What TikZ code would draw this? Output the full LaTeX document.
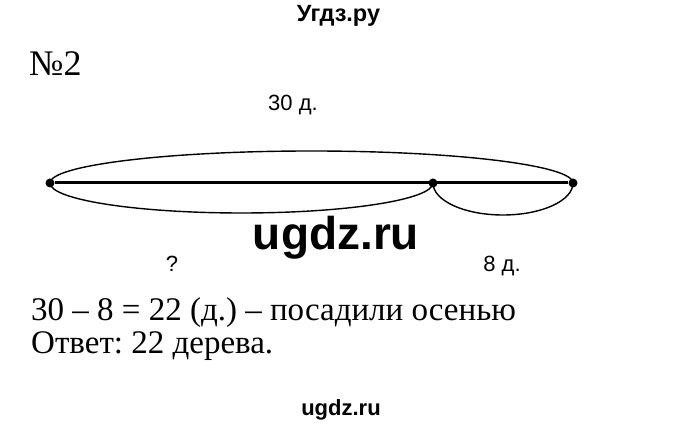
\documentclass[tikz,border=0pt]{standalone}
\usepackage{fontspec}
\setmainfont{Liberation Serif}
\newfontfamily\labelfont{Liberation Sans}
\frenchspacing

\begin{document}
\begin{tikzpicture}[x=1pt, y=1pt,
		dot/.style={circle, fill, inner sep=0pt, minimum size=9pt},
		arcline/.style={line width=1.4pt},
		lbl/.style={font=\labelfont\fontsize{22}{22}\selectfont, inner sep=0pt, anchor=base},
		site/.style={font=\labelfont\bfseries\fontsize{23.5}{23.5}\selectfont, inner sep=0pt, anchor=base},
		txt/.style={font=\fontsize{33}{38}\selectfont, inner sep=0pt, anchor=base west}]
		\useasboundingbox (0,0) rectangle (680,427);

		\node[site] (title) at (338.5,405) {Угдз.ру};
		\node[txt, font=\fontsize{36}{36}\selectfont] (num) at (29,351) {№2};

		\node[dot] (a) at (50,244) {};
		\node[dot] (b) at (433,244) {};
		\node[dot] (c) at (573,244) {};
		\draw [line width=3pt] (a) to (c);
		\draw [arcline] (a.center) arc [start angle=180, end angle=0, x radius=261.5, y radius=32];
		\draw [arcline] (a.center) arc [start angle=180, end angle=360, x radius=191.5, y radius=30];
		\draw [arcline] (b.center) arc [start angle=180, end angle=360, x radius=70, y radius=32];

		\node[lbl] (whole) at (293,316) {30 д.};
		\node[lbl] (part) at (172,155) {?};
		\node[lbl] (known) at (502,155) {8 д.};
		\node[site, font=\labelfont\bfseries\fontsize{46}{46}\selectfont] (wm) at (336,177) {ugdz.ru};

		\node[txt] (calc) at (31,106) {30 – 8 = 22 (д.) – посадили осенью};
		\node[txt] (ans) at (31,73) {Ответ: 22 дерева.};
		\node[site, font=\labelfont\bfseries\fontsize{22}{22}\selectfont] (foot) at (341,11) {ugdz.ru};
	\end{tikzpicture}
\end{document}
